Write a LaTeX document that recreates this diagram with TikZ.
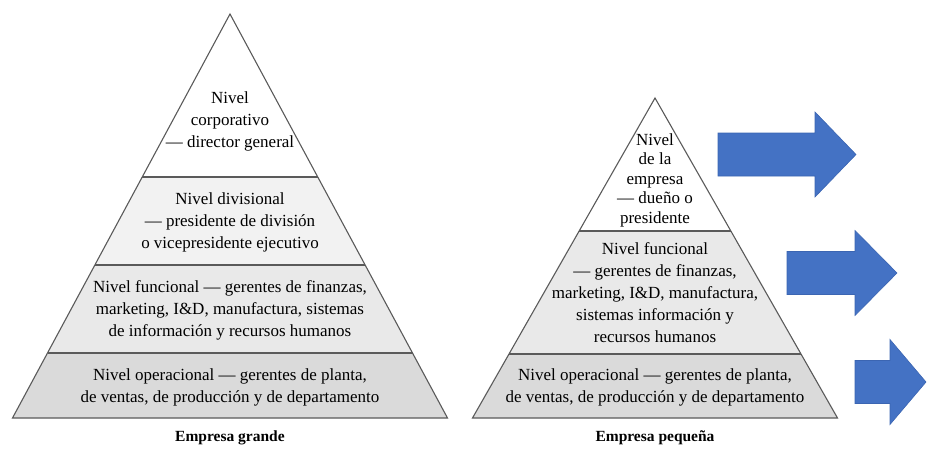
\documentclass[tikz,border=0pt]{standalone}
\usepackage{fontspec}
\setmainfont{Liberation Serif}
\usetikzlibrary{positioning}

\definecolor{lineGray}{HTML}{5A5A5A}
\definecolor{bandOne}{HTML}{F2F2F2}
\definecolor{bandTwo}{HTML}{E9E9E9}
\definecolor{bandThree}{HTML}{DADADA}
\definecolor{arrowBlue}{HTML}{4472C4}
\definecolor{arrowEdge}{HTML}{3B65B2}

\tikzset{
  level/.style={align=center, inner sep=0pt, font=\fontsize{17}{22}\selectfont},
  caption/.style={inner sep=0pt, font=\fontsize{15.5}{18}\selectfont\bfseries},
  edge/.style={draw=lineGray, line width=1.1pt, line join=miter},
  blockarrow/.style={fill=arrowBlue, draw=arrowEdge, line width=0.6pt},
}

% block arrow: start x, neck x, tip x, middle y
\newcommand{\bigarrow}[4]{%
  \filldraw[blockarrow] (#1,#4-21.5) -- (#2,#4-21.5) -- (#2,#4-42.5) -- (#3,#4)
    -- (#2,#4+42.5) -- (#2,#4+21.5) -- (#1,#4+21.5) -- cycle;}

\begin{document}
\begin{tikzpicture}[x=1pt, y=-1pt]
  \useasboundingbox (0,0) rectangle (939,464);

  % large company
  \coordinate (topL) at (230,14);
  \coordinate (aL) at (142.2,177);  \coordinate (aR) at (317.8,177);
  \coordinate (bL) at (94.9,265);   \coordinate (bR) at (365.1,265);
  \coordinate (cL) at (47.5,353);   \coordinate (cR) at (412.5,353);
  \coordinate (dL) at (12.5,418);   \coordinate (dR) at (447.5,418);
  \fill[bandOne] (aL) -- (aR) -- (bR) -- (bL) -- cycle;
  \fill[bandTwo] (bL) -- (bR) -- (cR) -- (cL) -- cycle;
  \fill[bandThree] (cL) -- (cR) -- (dR) -- (dL) -- cycle;
  \draw[edge] (topL) -- (dR) -- (dL) -- cycle;
  \draw[edge] (aL) -- (aR);
  \draw[edge] (bL) -- (bR);
  \draw[edge] (cL) -- (cR);

  \node[level] (corp) at (230,121) {Nivel\\corporativo\\— director general};
  \node[level] (divis) at (230,222) {Nivel divisional\\— presidente de división\\o vicepresidente ejecutivo};
  \node[level] (funcL) at (230,310) {Nivel funcional — gerentes de finanzas,\\marketing, I\&D, manufactura, sistemas\\de información y recursos humanos};
  \node[level] (operL) at (230,387) {Nivel operacional — gerentes de planta,\\de ventas, de producción y de departamento};
  \node[caption] (grande) at (230,438) {Empresa grande};

  % small company
  \coordinate (topR) at (655,98);
  \coordinate (eL) at (579.2,231);  \coordinate (eR) at (730.8,231);
  \coordinate (fL) at (509,354);    \coordinate (fR) at (801,354);
  \coordinate (gL) at (472.5,418);  \coordinate (gR) at (837.5,418);
  \fill[bandTwo] (eL) -- (eR) -- (fR) -- (fL) -- cycle;
  \fill[bandThree] (fL) -- (fR) -- (gR) -- (gL) -- cycle;
  \draw[edge] (topR) -- (gR) -- (gL) -- cycle;
  \draw[edge] (eL) -- (eR);
  \draw[edge] (fL) -- (fR);

  \node[level, font=\fontsize{17}{19.5}\selectfont] (duenio) at (655,180) {Nivel\\de la\\empresa\\— dueño o\\presidente};
  \node[level] (funcR) at (655,293) {Nivel funcional\\— gerentes de finanzas,\\marketing, I\&D, manufactura,\\sistemas información y\\recursos humanos};
  \node[level] (operR) at (655,387) {Nivel operacional — gerentes de planta,\\de ventas, de producción y de departamento};
  \node[caption] (pequena) at (655,438) {Empresa pequeña};

  % arrows
  \bigarrow{718}{815}{856}{154.5}
  \bigarrow{787}{855}{897}{273}
  \bigarrow{855}{890}{926}{382}
\end{tikzpicture}
\end{document}
